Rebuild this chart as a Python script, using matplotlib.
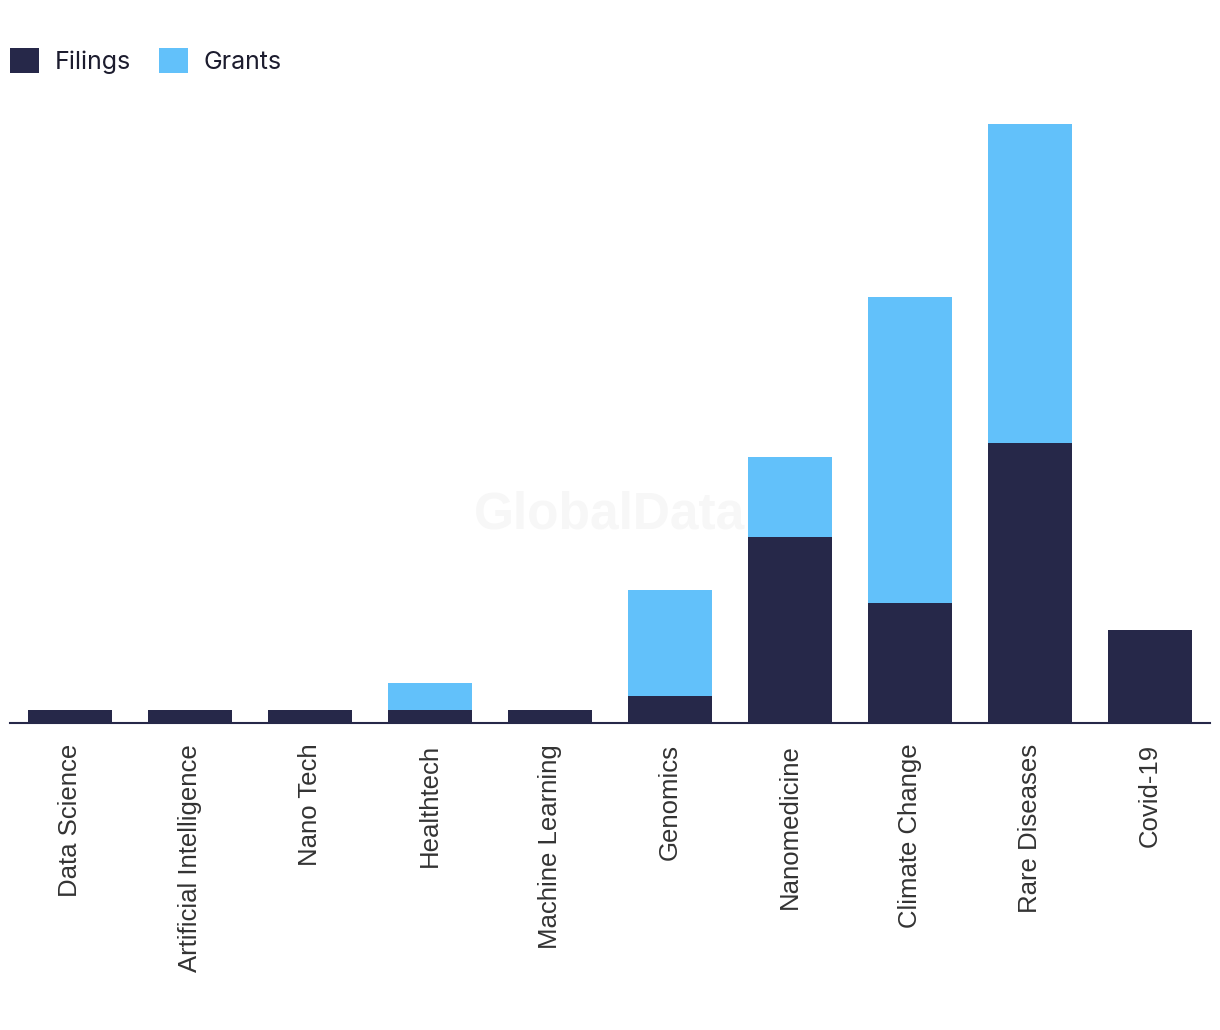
import matplotlib
matplotlib.use('Agg')
import matplotlib.pyplot as plt
import numpy as np

categories = ['Data Science', 'Artificial Intelligence', 'Nano Tech', 'Healthtech',
              'Machine Learning', 'Genomics', 'Nanomedicine', 'Climate Change',
              'Rare Diseases', 'Covid-19']
filings = [1, 1, 1, 1, 1, 2, 14, 9, 21, 7]
grants = [0, 0, 0, 2, 0, 8, 6, 23, 24, 0]

navy = '#262849'
sky = '#62c1fa'

fig = plt.figure(figsize=(12.2, 10.3), dpi=100)
ax = fig.add_axes([10 / 1220, 1 - 723 / 1030, 1200 / 1220, 613 / 1030])

x = np.arange(len(categories))
ax.bar(x, filings, width=0.7, color=navy, label='Filings', zorder=2)
ax.bar(x, grants, width=0.7, bottom=filings, color=sky, label='Grants', zorder=2)

ax.set_xlim(-0.5, 9.5)
ax.set_ylim(0, 46.05)
ax.set_xticks(x)
ax.set_xticklabels(categories, rotation=90, fontsize=18.5, color='#333333',
                   family='Liberation Sans')
ax.tick_params(axis='x', length=0, pad=15)
ax.set_yticks([])
for side in ['left', 'right', 'top']:
    ax.spines[side].set_visible(False)
ax.spines['bottom'].set_color(navy)
ax.spines['bottom'].set_linewidth(1.5)
ax.spines['bottom'].set_zorder(3)

# watermark
fig.text(610 / 1220, 1 - 515 / 1030, 'GlobalData', ha='center', va='center',
         fontsize=37, fontweight='bold', color='#f7f7f7', family='Liberation Sans',
         zorder=0)

fig.legend(loc='upper left', bbox_to_anchor=(0.0, 1 - 38 / 1030), ncol=2,
           frameon=False, handlelength=1.15, handleheight=1.15,
           handletextpad=0.65, columnspacing=1.1, borderaxespad=0,
           prop={'family': 'Inter', 'size': 18}, labelcolor='#1c1c2e')

fig.savefig('out.png', dpi=100)
